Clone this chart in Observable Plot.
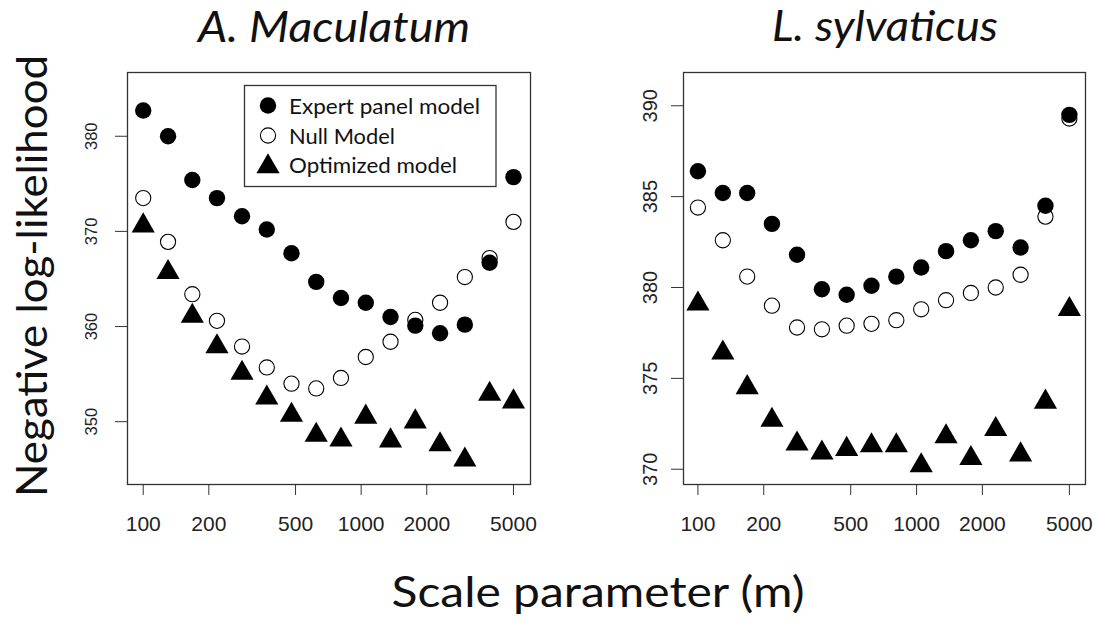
<!DOCTYPE html>
<html>
<head>
<meta charset="utf-8">
<script src="https://cdn.jsdelivr.net/npm/d3@7"></script>
<script src="https://cdn.jsdelivr.net/npm/@observablehq/plot@0.6"></script>
<style>
  html, body { margin: 0; padding: 0; background: #fff; }
  #wrap { position: relative; width: 1097px; height: 628px; overflow: hidden; background: #fff; }
  .panel { position: absolute; top: 50px; }
  #overlay { position: absolute; left: 0; top: 0; pointer-events: none; }
</style>
</head>
<body>
<div id="wrap">
  <div id="p1" class="panel" style="left:60px"></div>
  <div id="p2" class="panel" style="left:620px"></div>
</div>
<script>
// ---- data ----
const scaleParameter = [100, 130, 168, 218, 284, 369, 479, 622, 808, 1050, 1364, 1772, 2302, 2991, 3886, 5000];
const xTickValues = [100, 200, 500, 1000, 2000, 5000];

const maculatumExpert    = [382.7, 380.0, 375.4, 373.5, 371.6, 370.2, 367.7, 364.7, 363.0, 362.5, 361.0, 360.1, 359.3, 360.2, 366.7, 375.7];
const maculatumNull      = [373.5, 368.9, 363.4, 360.6, 357.9, 355.7, 354.0, 353.5, 354.6, 356.8, 358.4, 360.7, 362.5, 365.2, 367.2, 371.0];
const maculatumOptimized = [370.6, 365.7, 361.1, 357.9, 355.1, 352.5, 350.7, 348.6, 348.1, 350.5, 348.0, 350.0, 347.6, 346.0, 352.9, 352.1];
const maculatumYTicks    = [350, 360, 370, 380];

const sylvaticusExpert    = [386.4, 385.2, 385.2, 383.5, 381.8, 379.9, 379.6, 380.1, 380.6, 381.1, 382.0, 382.6, 383.1, 382.2, 384.5, 389.5];
const sylvaticusNull      = [384.4, 382.6, 380.6, 379.0, 377.8, 377.7, 377.9, 378.0, 378.2, 378.8, 379.3, 379.7, 380.0, 380.7, 383.9, 389.3];
const sylvaticusOptimized = [379.1, 376.4, 374.5, 372.7, 371.4, 370.9, 371.1, 371.3, 371.3, 370.2, 371.8, 370.6, 372.2, 370.8, 373.7, 378.8];
const sylvaticusYTicks    = [370, 375, 380, 385, 390];

const panelTitles = ["A. Maculatum", "L. sylvaticus"];
const legendLabels = ["Expert panel model", "Null Model", "Optimized model"];
const yAxisTitle = "Negative log-likelihood";
const xAxisTitle = "Scale parameter (m)";

// ---- chart ----
function rowsOf(values) {
  return scaleParameter.map((x, i) => ({x, y: values[i]}));
}

function panel({expert, nul, opt, xDomain, yDomain, yTicks, yFontSize, yDx, width, marginLeft, marginRight}) {
  return Plot.plot({
    width, height: 495,
    marginTop: 22, marginBottom: 61, marginLeft, marginRight,
    x: {type: "log", domain: xDomain},
    y: {domain: yDomain},
    style: {fontFamily: "'Liberation Sans', Arial, sans-serif", color: "#222", background: "transparent", overflow: "visible"},
    marks: [
      Plot.frame({stroke: "#333", strokeWidth: 1.3}),
      Plot.axisX({ticks: xTickValues, tickFormat: d => String(d), tickSize: 11, tickPadding: 21, fontSize: 21, label: null, stroke: "#333"}),
      Plot.axisY({ticks: yTicks, tickSize: 12, tickFormat: () => "", label: null, stroke: "#333"}),
      Plot.text(yTicks, {y: d => d, frameAnchor: "left", text: d => String(d), rotate: -90, dx: yDx,
        textAnchor: "middle", lineAnchor: "middle", fontSize: yFontSize, fill: "#222"}),
      Plot.dot(rowsOf(nul), {x: "x", y: "y", r: 7.6, fill: "white", stroke: "black", strokeWidth: 1.1}),
      Plot.dot(rowsOf(opt), {x: "x", y: "y", r: 8.6, symbol: "triangle", fill: "black"}),
      Plot.dot(rowsOf(expert), {x: "x", y: "y", r: 8.2, fill: "black"})
    ]
  });
}

document.getElementById("p1").appendChild(panel({
  expert: maculatumExpert, nul: maculatumNull, opt: maculatumOptimized,
  xDomain: [84.7, 5985], yDomain: [343.4, 386.7], yTicks: maculatumYTicks,
  yFontSize: 16.5, yDx: -36, width: 485, marginLeft: 67, marginRight: 15
}));
document.getElementById("p2").appendChild(panel({
  expert: sylvaticusExpert, nul: sylvaticusNull, opt: sylvaticusOptimized,
  xDomain: [85.9, 5925], yDomain: [369.16, 391.83], yTicks: sylvaticusYTicks,
  yFontSize: 20, yDx: -32.5, width: 477, marginLeft: 63, marginRight: 12
}));

// ---- titles, axis titles, legend ----
const svg = d3.select("#wrap").append("svg")
  .attr("id", "overlay").attr("width", 1097).attr("height", 628)
  .style("font-family", "Lato, 'Open Sans', sans-serif");

svg.append("text").attr("x", 334).attr("y", 42).attr("text-anchor", "middle")
  .attr("font-size", 42).attr("font-style", "italic").attr("fill", "#111")
  .attr("textLength", 272).attr("lengthAdjust", "spacingAndGlyphs").text(panelTitles[0]);
svg.append("text").attr("x", 885).attr("y", 41).attr("text-anchor", "middle")
  .attr("font-size", 42).attr("font-style", "italic").attr("fill", "#111")
  .attr("textLength", 226).attr("lengthAdjust", "spacingAndGlyphs").text(panelTitles[1]);
svg.append("text").attr("transform", "translate(47,276) rotate(-90)").attr("text-anchor", "middle")
  .attr("font-size", 42).attr("fill", "#111")
  .attr("textLength", 442).attr("lengthAdjust", "spacingAndGlyphs").text(yAxisTitle);
svg.append("text").attr("x", 598).attr("y", 607).attr("text-anchor", "middle")
  .attr("font-size", 42).attr("fill", "#111")
  .attr("textLength", 413).attr("lengthAdjust", "spacingAndGlyphs").text(xAxisTitle);

const lg = svg.append("g");
lg.append("rect").attr("x", 244.5).attr("y", 85.5).attr("width", 251.5).attr("height", 101)
  .attr("fill", "white").attr("stroke", "#333").attr("stroke-width", 1.3);
const rowY = [105.5, 135.5, 164.5];
const textW = [191, 106, 168];
lg.append("circle").attr("cx", 268).attr("cy", rowY[0]).attr("r", 8.2).attr("fill", "black");
lg.append("circle").attr("cx", 268).attr("cy", rowY[1]).attr("r", 7.6).attr("fill", "white").attr("stroke", "black").attr("stroke-width", 1.1);
lg.append("path").attr("transform", `translate(268,${rowY[2] + 2})`)
  .attr("d", d3.symbol(d3.symbolTriangle, Math.PI * 8.6 * 8.6)()).attr("fill", "black");
legendLabels.forEach((t, i) => {
  lg.append("text").attr("x", 289).attr("y", rowY[i] + 8).attr("font-size", 22).attr("fill", "#111")
    .attr("textLength", textW[i]).attr("lengthAdjust", "spacingAndGlyphs").text(t);
});
</script>
</body>
</html>
